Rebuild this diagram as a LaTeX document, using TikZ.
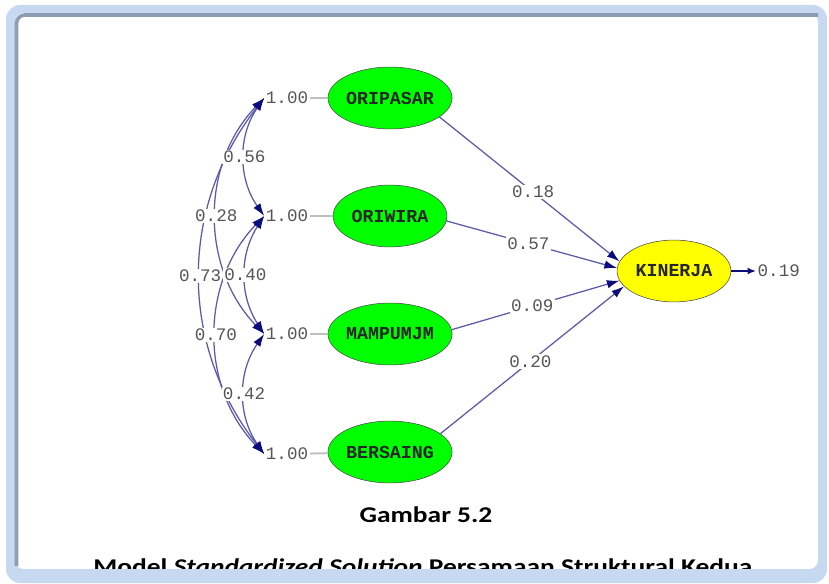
\documentclass[tikz,border=0pt]{standalone}
\usepackage{fontspec}
\usepackage{tikz}
\usetikzlibrary{arrows.meta,shapes.geometric}
\setmainfont{Carlito}
\newfontfamily\lisrel{Liberation Mono}
\definecolor{framblue}{HTML}{C6D9F0}
\definecolor{framgrey}{HTML}{8E9EB2}
\definecolor{pathblue}{HTML}{5B5BAA}
\definecolor{tipnavy}{HTML}{0C0C7C}
\definecolor{numgrey}{HTML}{555555}
\definecolor{latgreen}{HTML}{00FF00}
\definecolor{latyellow}{HTML}{FFFF00}

\begin{document}
\begin{tikzpicture}[x=0.025cm,y=-0.025cm,
  latent/.style={draw=black!70,ellipse,fill=latgreen,minimum width=81pt,minimum height=44pt,
    inner sep=0pt,font=\lisrel\bfseries\fontsize{13}{15}\selectfont,text=black!85},
  num/.style={font=\lisrel\fontsize{12.5}{14}\selectfont,text=numgrey,inner sep=1pt},
  numbox/.style={num,fill=white},
  varline/.style={draw=black!25,line width=1.4pt},
  path/.style={draw=pathblue,line width=0.9pt,-{Latex[length=9pt,width=6pt,color=tipnavy]}},
  cov/.style={draw=pathblue,line width=0.9pt,
    {Latex[length=9pt,width=6pt,color=tipnavy]}-{Latex[length=9pt,width=6pt,color=tipnavy]}},
  capt/.style={font=\bfseries\fontsize{16}{18}\selectfont,inner sep=0pt,xscale=1.22}]
\useasboundingbox (0,0) rectangle (829,584);
\clip (0,0) rectangle (829,584);

\node[latent] (oripasar) at (390,98) {ORIPASAR};
\node[latent] (oriwira) at (390,216) {ORIWIRA};
\node[latent] (mampumjm) at (390,334) {MAMPUMJM};
\node[latent] (bersaing) at (390,452) {BERSAING};
\node[latent,fill=latyellow] (kinerja) at (674,271) {KINERJA};

\node[num] (v1) at (287,98) {1.00};
\node[num] (v2) at (287,216) {1.00};
\node[num] (v3) at (287,334) {1.00};
\node[num] (v4) at (287,454) {1.00};
\draw[varline] (v1) -- (oripasar);
\draw[varline] (v2) -- (oriwira);
\draw[varline] (v3) -- (mampumjm);
\draw[varline] (v4) -- (bersaing);

\draw[cov] (v1.west) to[bend right=38] node[numbox] (c73) {0.73} (v4.west);
\draw[cov] (v1.west) to[bend right=44] node[numbox] (c28) {0.28} (v3.west);
\draw[cov] (v2.west) to[bend right=44] node[numbox] (c70) {0.70} (v4.west);
\draw[cov] (v1.west) to[bend right=35] node[numbox] (c56) {0.56} (v2.west);
\draw[cov] (v2.west) to[bend right=33] node[numbox] (c40) {0.40} (v3.west);
\draw[cov] (v3.west) to[bend right=35] node[numbox] (c42) {0.42} (v4.west);

\draw[path] (oripasar.-21) -- node[numbox,pos=0.52] (p18) {0.18} (kinerja.170);
\draw[path] (oriwira.-5) -- node[numbox,pos=0.48] (p57) {0.57} (kinerja.177);
\draw[path] (mampumjm.4) -- node[numbox,pos=0.48] (p09) {0.09} (kinerja.190);
\draw[path] (bersaing.20) -- node[numbox,pos=0.49] (p20) {0.20} (kinerja.197);

\node[num,anchor=west] (err) at (756,271) {0.19};
\draw[draw=tipnavy,line width=1.4pt,-{Latex[length=6pt,width=5pt]}] (kinerja.east) -- (err.west);

\node[capt] (gambar) at (426,515) {Gambar 5.2};
\node[capt,anchor=base west] (judul) at (93,574)
  {Model \textit{Standardized Solution} Persamaan Struktural Kedua};

% frame over the cut caption
\fill[framblue,even odd rule,rounded corners=10pt] (6,5) rectangle (827,583)
  [rounded corners=6pt] (15,13) rectangle (818,569);
\draw[framgrey,line width=2.6pt,rounded corners=6pt] (16.5,566) -- (16.5,15) -- (818,15);
\end{tikzpicture}
\end{document}
